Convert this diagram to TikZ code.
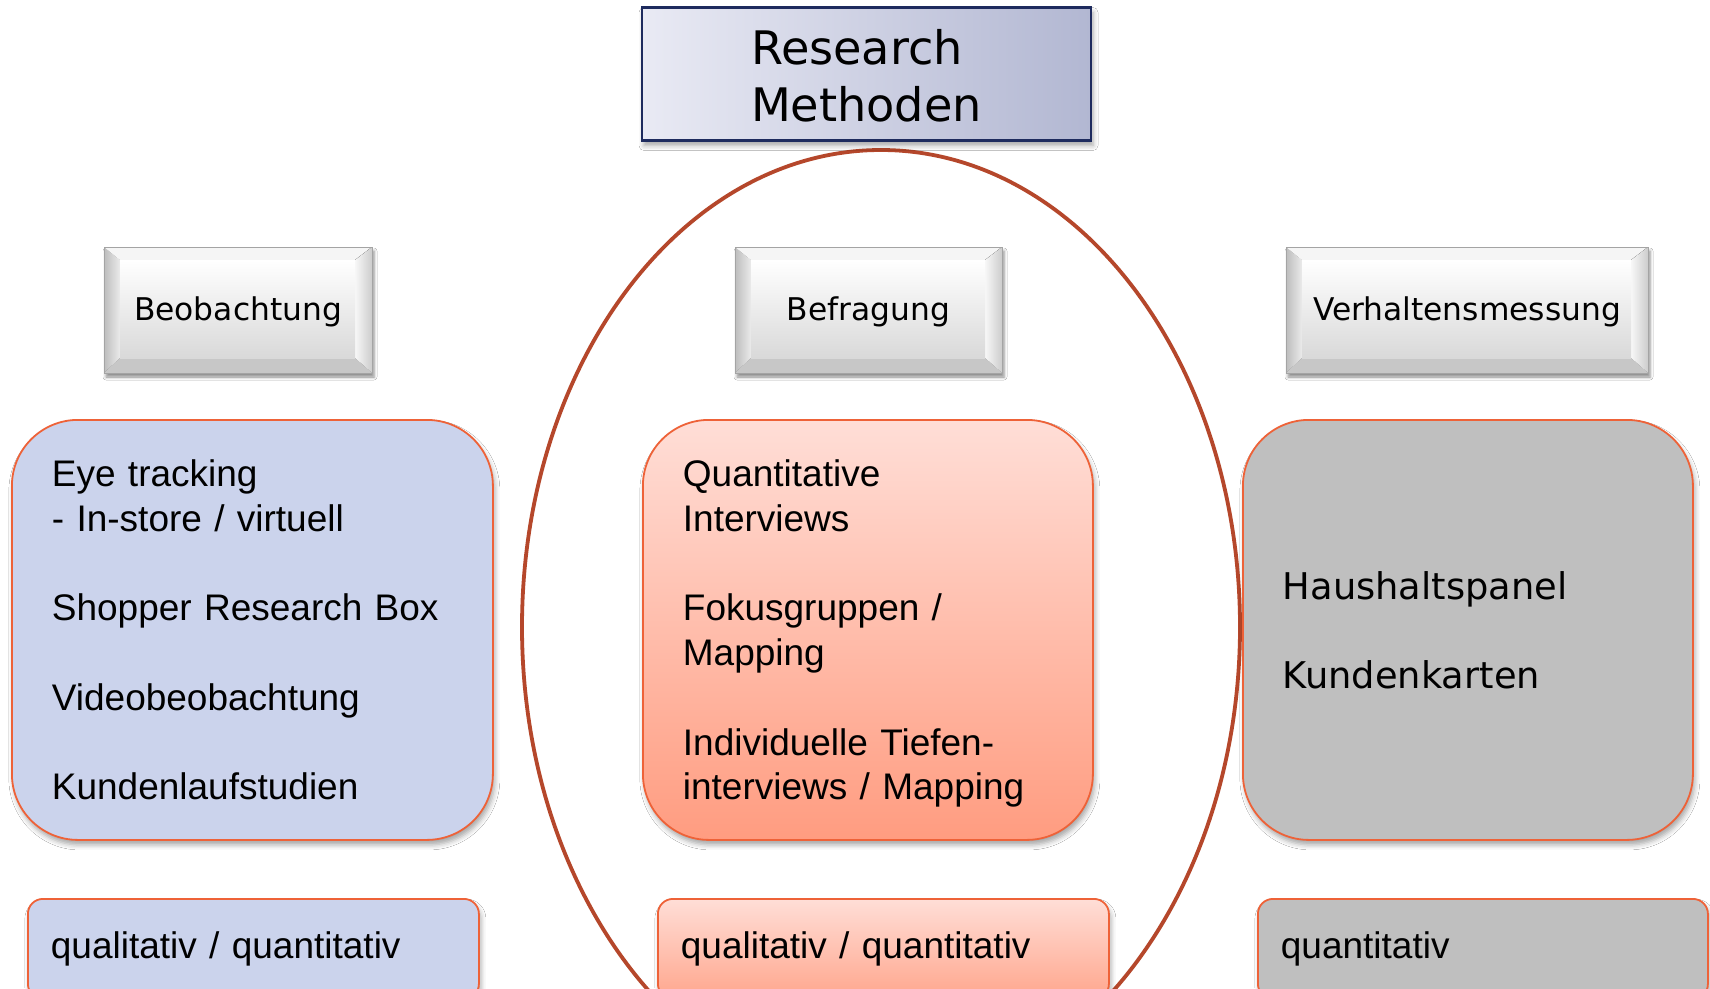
\documentclass[tikz,border=0pt]{standalone}
\usepackage{fontspec}
\setmainfont{Liberation Sans}
\newfontfamily\verd{DejaVu Sans}
\usetikzlibrary{shadows.blur}

\definecolor{ringred}{HTML}{B5472B}
\definecolor{boxedge}{HTML}{EE6238}
\definecolor{obsfill}{HTML}{CBD3EC}
\definecolor{askTop}{HTML}{FFDED7}
\definecolor{askBot}{HTML}{FF9C80}
\definecolor{measfill}{HTML}{BFBFBF}
\definecolor{titleL}{HTML}{E9EAF4}
\definecolor{titleR}{HTML}{B2B7D2}
\definecolor{titleEdge}{HTML}{1E2B5E}
\definecolor{bevEdge}{HTML}{A4A4A4}

% bevelled grey button: name, x1, y1, x2, y2, label
\newcommand\bevbtn[6]{%
  \fill[btnshadow, fill=bevEdge!60] (#2,#3) rectangle (#4,#5);
  % left bevel
  \fill[left color=black!26, right color=black!8]
    (#2,#3) -- (#2+16,#3+13) -- (#2+16,#5-15) -- (#2,#5) -- cycle;
  % top bevel
  \fill[black!4] (#2,#3) -- (#4,#3) -- (#4-17,#3+13) -- (#2+16,#3+13) -- cycle;
  % right bevel
  \fill[left color=black!3, right color=black!20]
    (#4,#3) -- (#4,#5) -- (#4-17,#5-15) -- (#4-17,#3+13) -- cycle;
  % bottom bevel
  \fill[black!22] (#2,#5) -- (#2+16,#5-15) -- (#4-17,#5-15) -- (#4,#5) -- cycle;
  % face
  \fill[top color=white, bottom color=black!15] (#2+16,#3+13) rectangle (#4-17,#5-15);
  \draw[bevEdge, line width=1pt] (#2,#3) rectangle (#4,#5);
  \node[btntext] (#1) at ({(#2+#4)/2},{(#3+#5)/2+2}) {#6};
}

\begin{document}
\begin{tikzpicture}[x=1pt,y=-1pt,
  softshadow/.style={blur shadow={shadow xshift=2pt, shadow yshift=-5pt,
      shadow blur radius=5pt, shadow opacity=35}},
  btnshadow/.style={blur shadow={shadow xshift=2pt, shadow yshift=-4pt,
      shadow blur radius=3pt, shadow opacity=45}},
  btntext/.style={font=\verd\fontsize{31.3}{37}\selectfont, inner sep=0pt},
  bigbox/.style={rounded corners=66pt, draw=boxedge, line width=1.8pt,
      minimum height=420pt, align=left, inner xsep=40pt, inner ysep=0pt,
      anchor=north west, font=\fontsize{37}{44.7}\selectfont, softshadow},
  smallbox/.style={rounded corners=15pt, draw=boxedge, line width=1.8pt,
      minimum height=100pt, align=left, inner xsep=23pt, inner ysep=0pt,
      anchor=north west, font=\fontsize{37}{44.7}\selectfont, softshadow},
  ring/.style={draw=ringred, line width=3.8pt}]

\useasboundingbox (0,0) rectangle (1710,988);
\clip (0,0) rectangle (1710,988);
\fill[white] (0,0) rectangle (1710,988);

% the ring around the survey column
\draw[ring] (881,627) ellipse [x radius=359, y radius=477];

% heading
\node[draw=titleEdge, line width=2.2pt, left color=titleL, right color=titleR,
  minimum width=449pt, minimum height=133pt, inner sep=0pt, softshadow]
  (title) at (866.5,74) {};
\node[align=left, inner sep=0pt, font=\verd\fontsize{46.2}{57}\selectfont]
  (titletext) at (866.5,76) {Research\\Methoden};

% method buttons
\bevbtn{obsbtn}{104}{247}{372}{373}{Beobachtung}
\bevbtn{askbtn}{735}{247}{1002}{373}{Befragung}
\bevbtn{measbtn}{1286}{247}{1648}{373}{Verhaltensmessung}

% method contents
\node[bigbox, fill=obsfill, text width=401pt] (obs) at (11,419)
  {Eye tracking\\- In-store / virtuell\\[44.7pt]Shopper Research Box\\[44.7pt]Videobeobachtung\\[44.7pt]Kundenlaufstudien};
\node[bigbox, top color=askTop, bottom color=askBot, text width=370pt] (ask) at (642,419)
  {Quantitative\\Interviews\\[44.7pt]Fokusgruppen /\\Mapping\\[44.7pt]Individuelle Tiefen-\\\smash{interviews / Mapping}};
\node[bigbox, fill=measfill, text width=370pt, font=\verd\fontsize{36.8}{44.5}\selectfont] (meas) at (1242,419)
  {Haushaltspanel\\[44.5pt]Kundenkarten};

% data type
\node[smallbox, fill=obsfill, text width=405pt] (obstype) at (27,898) {qualitativ / quantitativ};
\node[smallbox, top color=askTop, bottom color=askBot!90!white, text width=405pt] (asktype) at (657,898) {qualitativ / quantitativ};
\node[smallbox, fill=measfill, text width=404pt] (meastype) at (1257,898) {quantitativ};

\end{tikzpicture}
\end{document}
